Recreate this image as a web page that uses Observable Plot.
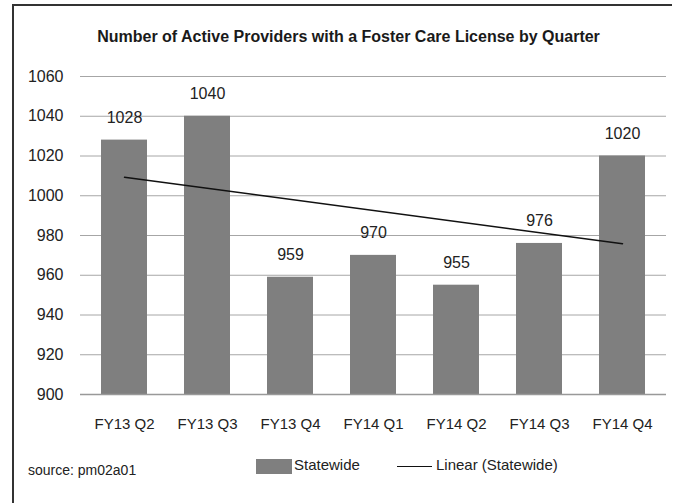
<!DOCTYPE html>
<html>
<head>
<meta charset="utf-8">
<script src="https://cdn.jsdelivr.net/npm/d3@7"></script>
<script src="https://cdn.jsdelivr.net/npm/@observablehq/plot@0.6"></script>
<style>
  html, body { margin: 0; padding: 0; background: #fff; }
  #wrap { position: relative; width: 673px; height: 503px; overflow: hidden; background: #fff; }
  #frame { position: absolute; left: 12px; top: 4px; width: 660px; height: 600px;
           border-top: 2px solid #333; border-left: 2px solid #333; box-sizing: border-box; }
  #title { position: absolute; left: 12px; width: 673px; top: 27px; text-align: center;
           font-family: "Liberation Sans", sans-serif; font-weight: bold;
           font-size: 16px; color: #1a1a1a; line-height: 20px; }
  #chart { position: absolute; left: 0; top: 55px; }
  #legend { position: absolute; left: 0; top: 456px; width: 673px; height: 24px;
            font-family: "Liberation Sans", sans-serif; font-size: 15px; color: #222; }
  .sw { position: absolute; }
  #source { position: absolute; left: 28px; top: 462px; font-family: "Liberation Sans", sans-serif;
            font-size: 14px; color: #222; }
</style>
</head>
<body>
<div id="wrap">
  <div id="frame"></div>
  <div id="title">Number of Active Providers with a Foster Care License by Quarter</div>
  <div id="chart"></div>
  <div id="legend">
    <div class="sw" style="left:256px; top:3px; width:36px; height:15px; background:#7f7f7f;"></div>
    <div class="sw" style="left:294px; top:0px;">Statewide</div>
    <div class="sw" style="left:397px; top:10px; width:35px; height:0; border-top:1.5px solid #111;"></div>
    <div class="sw" style="left:436px; top:0px;">Linear (Statewide)</div>
  </div>
  <div id="source">source: pm02a01</div>
</div>
<script>
const quarters = ["FY13 Q2", "FY13 Q3", "FY13 Q4", "FY14 Q1", "FY14 Q2", "FY14 Q3", "FY14 Q4"];
const providers = [1028, 1040, 959, 970, 955, 976, 1020];
const trendQuarters = ["FY13 Q2", "FY14 Q4"];
const trendValues = [1009.3, 975.9];
const yTicks = [900, 920, 940, 960, 980, 1000, 1020, 1040, 1060];

const bars = quarters.map((q, i) => ({q, v: providers[i]}));
const trend = trendQuarters.map((q, i) => ({q, v: trendValues[i]}));

const chart = Plot.plot({
  width: 673,
  height: 390,
  marginLeft: 80,
  marginRight: 7,
  marginTop: 21,
  marginBottom: 51,
  style: {fontFamily: "Liberation Sans, sans-serif", fontSize: "15px", color: "#222", background: "transparent"},
  x: {domain: quarters, paddingInner: 0.44, paddingOuter: 0.22, label: null},
  y: {domain: [900, 1060], label: null},
  marks: [
    Plot.gridY(yTicks.filter(d => d > 900), {stroke: "#a6a6a6", strokeOpacity: 1, strokeWidth: 1}),
    Plot.barY(bars, {x: "q", y1: 900, y2: "v", fill: "#7f7f7f"}),
    Plot.ruleY([900], {stroke: "#999", strokeWidth: 1.5}),
    Plot.line(trend, {x: "q", y: "v", stroke: "#111", strokeWidth: 1.5}),
    Plot.text(bars, {x: "q", y: "v", text: d => String(d.v), lineAnchor: "bottom", dy: -17, fontSize: 16, fill: "#222"}),
    Plot.axisY(yTicks, {tickSize: 0, tickPadding: 17, tickFormat: d => String(d), fontSize: 16, label: null}),
    Plot.axisX({tickSize: 0, tickPadding: 24, fontSize: 15, label: null})
  ]
});
document.getElementById("chart").appendChild(chart);
</script>
</body>
</html>
